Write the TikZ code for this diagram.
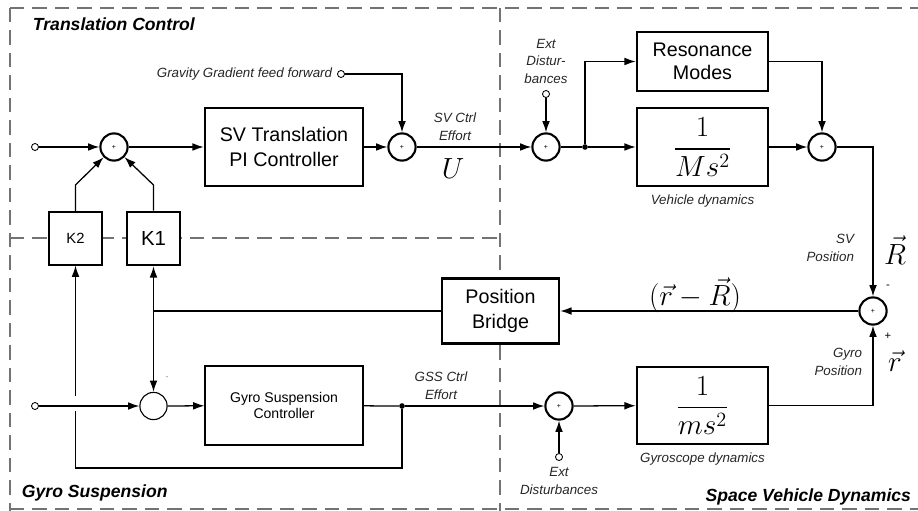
\documentclass[tikz,border=0pt]{standalone}
\usepackage{amsmath}
\usepackage{fontspec}
\setmainfont{Liberation Sans}
\usetikzlibrary{positioning,arrows.meta}

\begin{document}
\begin{tikzpicture}[
		x=0.025cm, y=-0.025cm,
		block/.style={draw, line width=1.8pt, fill=white, align=center, font=\fontsize{14}{17.5}\selectfont},
		thinblock/.style={draw, line width=0.8pt, fill=white, align=center, font=\fontsize{10}{12}\selectfont},
		sum/.style={draw, circle, line width=1.5pt, fill=white, minimum size=0.68cm, inner sep=0pt, font=\fontsize{5}{5}\selectfont},
		port/.style={draw, circle, line width=0.6pt, fill=white, minimum size=5pt, inner sep=0pt},
		dot/.style={circle, fill, minimum size=4pt, inner sep=0pt},
		arrow/.style={-{Latex[length=8pt,width=5.5pt]}, line width=0.9pt},
		wire/.style={line width=0.9pt},
		lbl/.style={font=\fontsize{9.5}{12.5}\selectfont\itshape, text=black!85, align=center},
		region/.style={font=\fontsize{12.5}{14}\selectfont\bfseries\itshape},
		border/.style={draw=black!55, line width=0.8pt, dash pattern=on 10pt off 6pt},
		bigmath/.style={font=\fontsize{22}{24}\selectfont, inner sep=0pt}
	]
	\useasboundingbox (0,0) rectangle (918,511);

	% Regions
	\draw[border] (10,8) -- (918,8);
	\draw[border] (10,8) -- (10,511);
	\draw[border] (10,509) -- (918,509);
	\draw[border] (500,8) -- (500,511);
	\draw[border] (10,238) -- (500,238);
	\node[region, anchor=west] (tc) at (28,24) {Translation Control};
	\node[region, anchor=west] (gs) at (17,493) {Gyro Suspension};
	\node[region, anchor=east] (svd) at (916,497) {Space Vehicle Dynamics};

	% Translation control
	\node[port] (in1) at (35,147) {};
	\node[sum] (s1) at (114,147) {+};
	\node[block, minimum width=3.95cm, minimum height=1.95cm] (pi) at (284,147) {SV Translation\\PI Controller};
	\node[sum] (s2) at (402,147) {+};
	\node[port] (gg) at (341,74) {};
	\node[lbl, anchor=east] (gglbl) at (gg.west) {Gravity Gradient feed forward};
	\node[block, minimum width=1.325cm, minimum height=1.325cm, font=\fontsize{10.5}{12}\selectfont, line width=0.8pt] (K2) at (75.5,238.5) {K2};
	\node[block, minimum width=1.325cm, minimum height=1.325cm, font=\fontsize{14.5}{16}\selectfont] (K1) at (153.5,238.5) {K1};
	\node[lbl] (eff1) at (455,127) {SV Ctrl\\Effort};
	\node[bigmath] (uvar) at (453,169) {$U$};

	% Vehicle dynamics
	\node[sum] (s3) at (546,147) {+};
	\node[port] (ed1) at (546,94) {};
	\node[lbl, above=1pt of ed1] (ed1lbl) {Ext\\Distur-\\bances};
	\node[dot] (j1) at (585,147) {};
	\node[block, minimum width=3.275cm, minimum height=1.475cm, font=\fontsize{14}{16.5}\selectfont] (res) at (702.5,61.5) {Resonance\\Modes};
	\node[block, minimum width=3.275cm, minimum height=1.95cm, bigmath] (vd) at (702.5,147) {$\dfrac{1}{Ms^2}$};
	\node[lbl, below=2pt of vd] (vdlbl) {Vehicle dynamics};
	\node[sum] (s4) at (822,147) {+};
	\node[sum] (s6) at (873,311) {+};
	\node[lbl, anchor=east, align=right] (svpos) at (859,248) {SV\\Position};
	\node[bigmath] (Rvec) at (895,250) {$\vec{R}$};
	\node[lbl, anchor=east, align=right] (gypos) at (867,362) {Gyro\\Position};
	\node[bigmath] (rvec) at (895,361) {$\vec{r}$};
	\node[font=\fontsize{8}{8}\selectfont, inner sep=0pt] (minus6) at (888,287) {-};
	\node[font=\fontsize{8}{8}\selectfont, inner sep=0pt] (plus6) at (888,336) {+};
	\node[block, minimum width=2.925cm, minimum height=1.625cm] (pb) at (500.5,311) {Position\\Bridge};
	\node[bigmath] (diff) at (695,295) {$(\vec{r}-\vec{R})$};

	% Gyro suspension
	\node[port] (in2) at (35,406) {};
	\node[sum, line width=0.8pt] (gsum) at (153.5,406) {};
	\node[font=\fontsize{6}{6}\selectfont, text=black!50] (gminus) at (167,378) {-};
	\node[thinblock, minimum width=3.95cm, minimum height=1.975cm] (gsc) at (284,405.5) {Gyro Suspension\\Controller};
	\node[dot] (j2) at (402,406) {};
	\node[lbl] (eff2) at (441,386) {GSS Ctrl\\Effort};
	\node[sum] (s5) at (559,406) {+};
	\node[port] (ed2) at (559,457) {};
	\node[lbl, below=1pt of ed2] (ed2lbl) {Ext\\Disturbances};
	\node[block, minimum width=3.275cm, minimum height=1.925cm, bigmath] (gd) at (702.5,405.5) {$\dfrac{1}{ms^2}$};
	\node[lbl, below=2pt of gd] (gdlbl) {Gyroscope dynamics};

	\coordinate (k2b) at (75.5,185);
	\coordinate (k1b) at (153.5,185);
	\coordinate (jk) at (153.5,311);
	\coordinate (fbr) at (402,468);
	\coordinate (fbl) at (75.5,468);
	\coordinate (fbg1) at (75.5,411);
	\coordinate (fbg2) at (75.5,396);

	% Arrows
	\draw[arrow] (in1) -- (s1);
	\draw[arrow] (s1) -- (pi);
	\draw[arrow] (pi) -- (s2);
	\draw[arrow] (gg) -| (s2);
	\draw[arrow] (s2) -- (s3);
	\draw[arrow] (ed1) -- (s3);
	\draw[wire] (s3) -- (j1);
	\draw[arrow] (j1) -- (vd);
	\draw[arrow] (j1) |- (res);
	\draw[arrow] (res) -| (s4);
	\draw[arrow] (vd) -- (s4);
	\draw[arrow] (s4) -| (s6);
	\draw[arrow] (gd) -| (s6);
	\draw[arrow] (s6) -- (pb);
	\draw[wire] (pb) -- (jk);
	\draw[arrow] (jk) -- (K1);
	\draw[arrow] (jk) -- (gsum);
	\draw[arrow] (K2.north) -- (k2b) -- (s1);
	\draw[arrow] (K1.north) -- (k1b) -- (s1);
	\draw[arrow] (in2) -- (gsum);
	\draw[arrow] (gsum) -- (gsc);
	\draw[wire] (gsc) -- (j2);
	\draw[arrow] (j2) -- (s5);
	\draw[arrow] (ed2) -- (s5);
	\draw[arrow] (s5) -- (gd);
	\draw[wire] (j2) -- (fbr) -- (fbl) -- (fbg1);
	\draw[arrow] (fbg2) -- (K2);
\end{tikzpicture}
\end{document}
